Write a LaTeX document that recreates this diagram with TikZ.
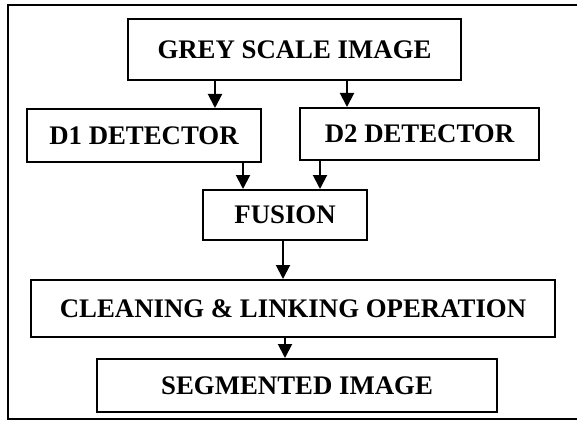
\documentclass[tikz,border=0pt]{standalone}
\usepackage{fontspec}
\setmainfont{Liberation Serif}
\usetikzlibrary{arrows.meta}
\begin{document}
\begin{tikzpicture}[x=1pt,y=-1pt,
  blk/.style={draw,line width=2pt,rectangle,inner sep=0pt,
    font=\fontsize{26.8}{30}\selectfont\bfseries},
  arr/.style={line width=2pt,-{Triangle[length=14pt,width=14pt]}}]
\useasboundingbox (0,0) rectangle (577,422);
\clip (0,0) rectangle (577,422);
\draw[line width=2.2pt] (8,5) rectangle (590,419);
\node[blk,minimum width=333pt,minimum height=61pt] (grey) at (294.5,49.5) {GREY SCALE IMAGE};
\node[blk,minimum width=234pt,minimum height=53pt] (d1) at (144,135.5) {D1 DETECTOR};
\node[blk,minimum width=239pt,minimum height=52pt] (d2) at (419.5,134) {D2 DETECTOR};
\node[blk,minimum width=164pt,minimum height=50pt] (fus) at (285,215) {FUSION};
\node[blk,minimum width=524pt,minimum height=57pt] (cln) at (293,308.5) {CLEANING \& LINKING OPERATION};
\node[blk,minimum width=400pt,minimum height=53pt] (seg) at (297,385.5) {SEGMENTED IMAGE};
\coordinate (x1) at (215,0);
\coordinate (x2) at (347,0);
\coordinate (x3) at (243,0);
\coordinate (x4) at (320,0);
\coordinate (x5) at (283,0);
\coordinate (x6) at (285,0);
\draw[arr] (grey.south -| x1) -- (d1.north -| x1);
\draw[arr] (grey.south -| x2) -- (d2.north -| x2);
\draw[arr] (d1.south -| x3) -- (fus.north -| x3);
\draw[arr] (d2.south -| x4) -- (fus.north -| x4);
\draw[arr] (fus.south -| x5) -- (cln.north -| x5);
\draw[arr] (cln.south -| x6) -- (seg.north -| x6);
\end{tikzpicture}
\end{document}
